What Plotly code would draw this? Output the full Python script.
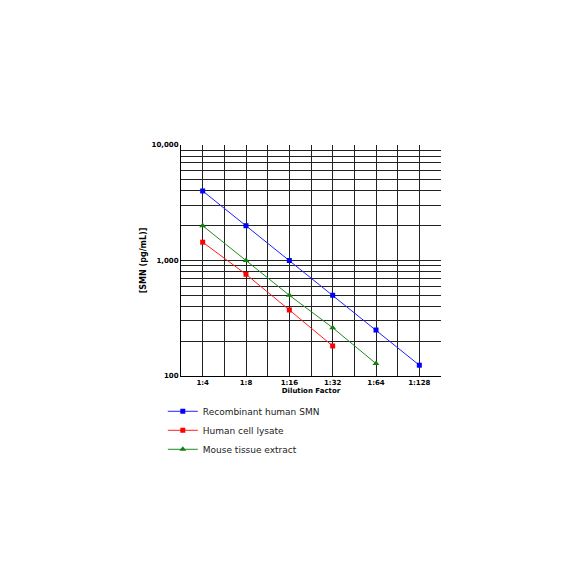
import plotly.graph_objects as go

dilutions = ['1:4', '1:8', '1:16', '1:32', '1:64', '1:128']
recombinant = [4000, 2000, 1000, 500, 250, 124]
cell_lysate = [1440, 760, 373, 182]
tissue_extract = [2000, 1000, 500, 262, 128]

xpos = list(range(len(dilutions)))

fig = go.Figure()
fig.add_trace(go.Scatter(x=xpos[:len(recombinant)], y=recombinant, name='Recombinant human SMN',
                         mode='lines+markers', line=dict(color='#2020ff', width=1),
                         marker=dict(symbol='square', size=5, color='#0000ff')))
fig.add_trace(go.Scatter(x=xpos[:len(cell_lysate)], y=cell_lysate, name='Human cell lysate',
                         mode='lines+markers', line=dict(color='#ff2020', width=1),
                         marker=dict(symbol='square', size=5, color='#ff0000')))
fig.add_trace(go.Scatter(x=xpos[:len(tissue_extract)], y=tissue_extract, name='Mouse tissue extract',
                         mode='lines+markers', line=dict(color='#208a20', width=1),
                         marker=dict(symbol='triangle-up', size=6, color='#108010')))

# gridlines at each dilution and half-way between
xgrid = [i / 2 for i in range(-1, 2 * len(dilutions))]
xtext = [dilutions[int(v)] if v == int(v) and v >= 0 else '' for v in xgrid]

ygrid = [m * 10 ** e for e in (2, 3) for m in range(1, 10)] + [10000]
ylabels = {100: '100', 1000: '1,000', 10000: '10,000'}
ytext = [ylabels.get(v, '') for v in ygrid]

tick_font = dict(family='DejaVu Sans', size=7, color='black', weight='bold')

fig.update_layout(
    width=584, height=584,
    margin=dict(l=173, r=151, t=137, b=216),
    plot_bgcolor='white', paper_bgcolor='white',
    showlegend=True,
    legend=dict(x=-0.07, y=-0.09, xanchor='left', yanchor='top',
                font=dict(family='DejaVu Sans', size=9, color='#222'),
                tracegroupgap=0, itemwidth=30),
    xaxis=dict(range=[-0.5, 5.5], tickmode='array', tickvals=xgrid, ticktext=xtext,
               showgrid=True, gridcolor='#222', gridwidth=1, zeroline=False,
               showline=True, linecolor='black', linewidth=1,
               tickfont=tick_font, ticks='',
               title=dict(text='Dilution Factor', standoff=0,
                          font=dict(family='DejaVu Sans', size=7, color='black', weight='bold'))),
    yaxis=dict(type='log', range=[2, 4], tickmode='array', tickvals=ygrid, ticktext=ytext,
               showgrid=True, gridcolor='#222', gridwidth=1, zeroline=False,
               showline=True, linecolor='black', linewidth=1,
               tickfont=tick_font, ticks='',
               title=dict(text='[SMN (pg/mL)]', standoff=3,
                          font=dict(family='DejaVu Sans', size=8, color='black', weight='bold'))),
)

fig.write_html("out.html")
